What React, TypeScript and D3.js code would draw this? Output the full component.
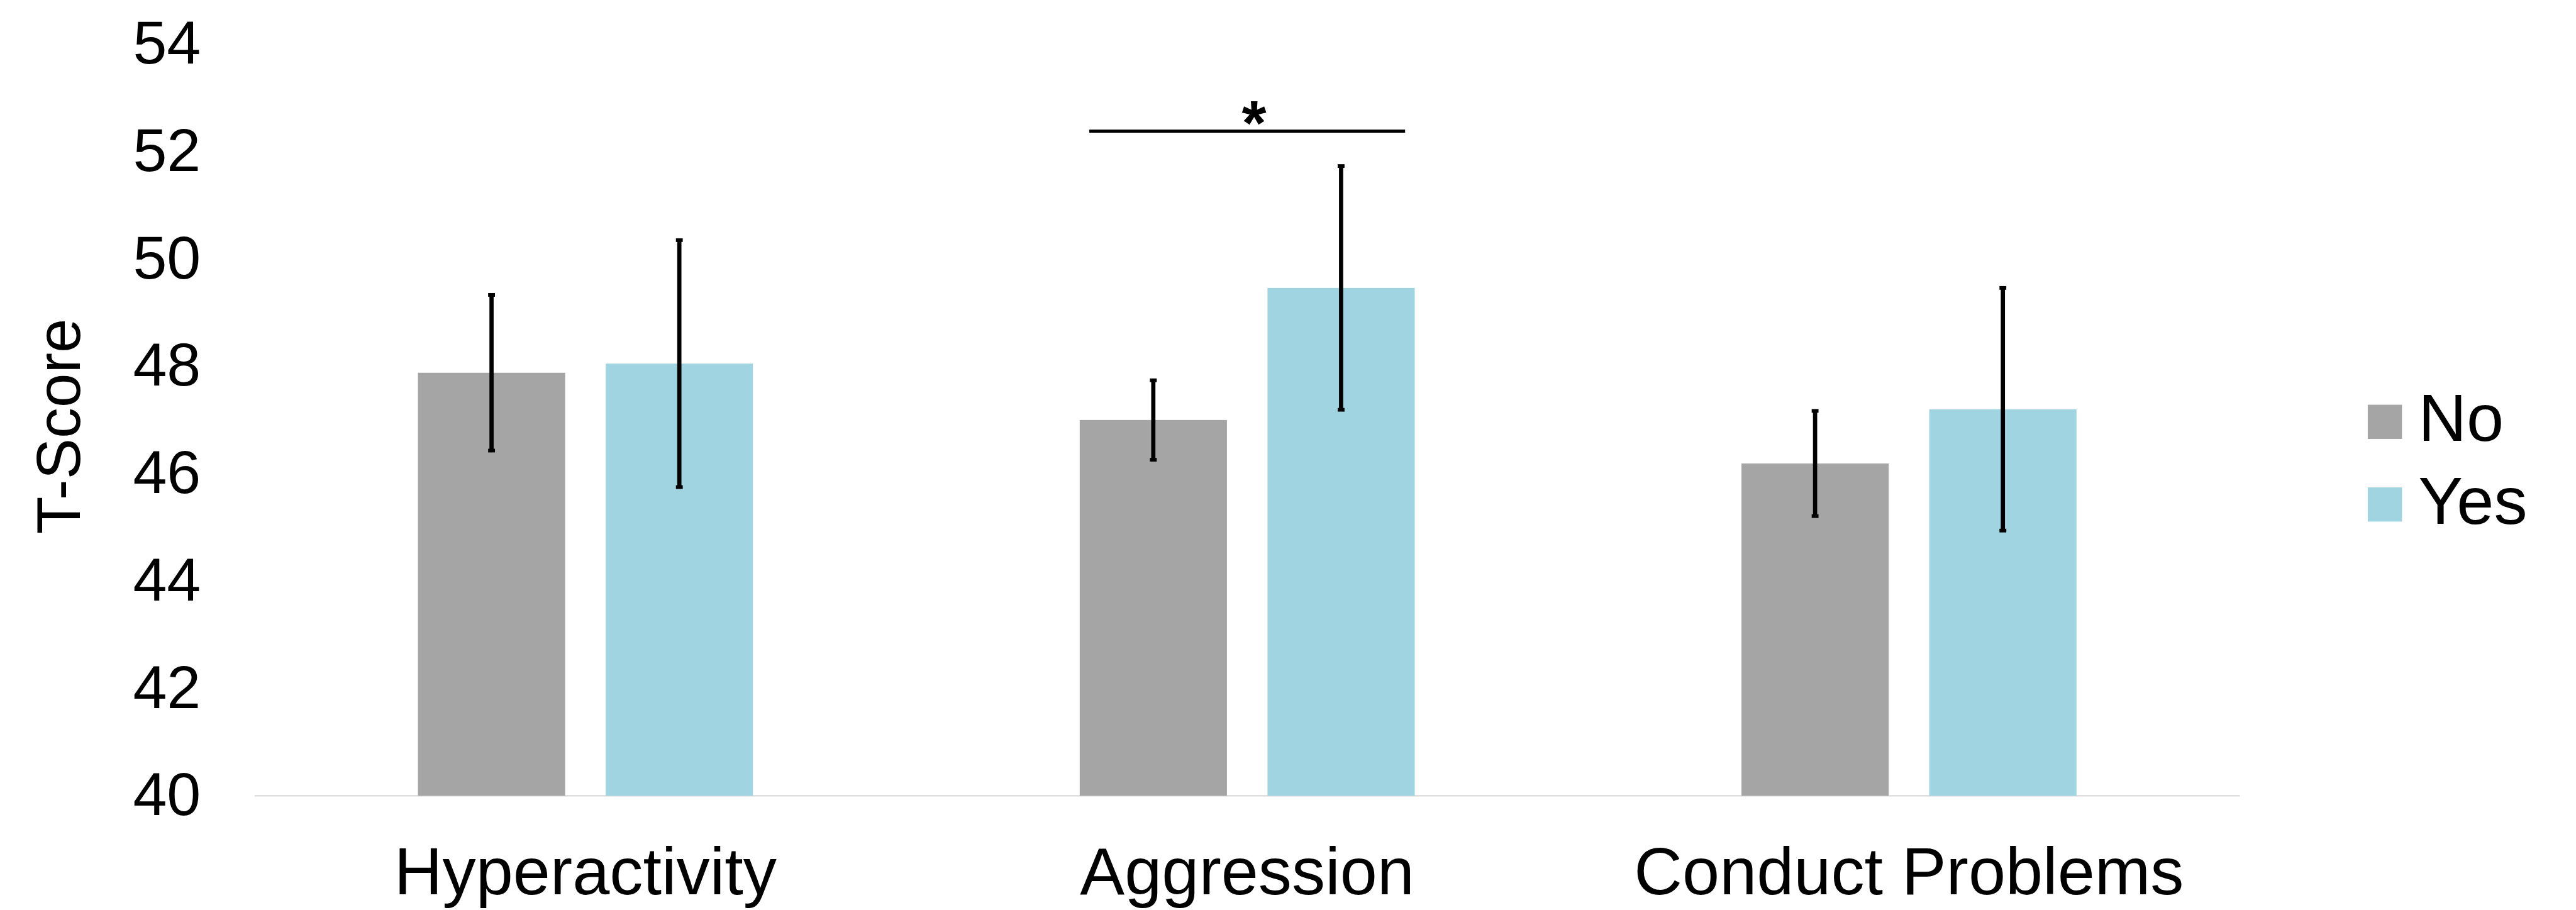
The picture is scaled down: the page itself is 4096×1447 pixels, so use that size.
import React, { useEffect, useRef } from 'react';
import * as d3 from 'd3';

const categories = ['Hyperactivity', 'Aggression', 'Conduct Problems'];
const series = ['No', 'Yes'];
const noMeans = [47.88, 47.0, 46.19];
const yesMeans = [48.05, 49.46, 47.2];
const noErr = [1.45, 0.74, 0.98];
const yesErr = [2.3, 2.27, 2.26];
const yTicks = [40, 42, 44, 46, 48, 50, 52, 54];
const sigCategory = 'Aggression';
const sigLevel = 52.38;
const sigLabel = '*';

const colors = { No: '#a5a5a5', Yes: '#9fd4e0' };
const FONT = '"Liberation Sans", Arial, sans-serif';

const App = () => {
  const svgRef = useRef(null);

  useEffect(() => {
    document.body.style.margin = '0';
    const svg = d3.select(svgRef.current);
    svg.selectAll('*').remove();

    // work in the reference's pixel space, viewBox scales it down
    const left = 483;
    const right = 4255;
    const top = 84;
    const bottom = 1512;

    const x0 = d3.scaleBand().domain(categories).range([left, right]);
    const x1 = d3
      .scaleBand()
      .domain(series)
      .range([0, x0.bandwidth()])
      .paddingInner(0.216)
      .paddingOuter(0.87);
    const y = d3.scaleLinear().domain([40, 54]).range([bottom, top]);

    const rows = categories.map((c, i) => ({
      cat: c,
      vals: [
        { key: 'No', mean: noMeans[i], err: noErr[i] },
        { key: 'Yes', mean: yesMeans[i], err: yesErr[i] },
      ],
    }));

    // baseline
    svg
      .append('line')
      .attr('x1', left)
      .attr('x2', right)
      .attr('y1', y(40))
      .attr('y2', y(40))
      .attr('stroke', '#d9d9d9')
      .attr('stroke-width', 2.5);

    // y tick labels
    svg
      .append('g')
      .selectAll('text')
      .data(yTicks)
      .join('text')
      .attr('x', 381)
      .attr('y', (d) => y(d) + 37)
      .attr('text-anchor', 'end')
      .attr('font-family', FONT)
      .attr('font-size', 116)
      .attr('fill', '#000')
      .text((d) => d);

    // y axis title
    svg
      .append('text')
      .attr('transform', 'translate(151, 810) rotate(-90)')
      .attr('text-anchor', 'middle')
      .attr('font-family', FONT)
      .attr('font-size', 117)
      .text('T-Score');

    const groups = svg
      .append('g')
      .selectAll('g')
      .data(rows)
      .join('g')
      .attr('transform', (d) => `translate(${x0(d.cat)},0)`);

    groups
      .selectAll('rect')
      .data((d) => d.vals)
      .join('rect')
      .attr('x', (d) => x1(d.key))
      .attr('width', x1.bandwidth())
      .attr('y', (d) => y(d.mean))
      .attr('height', (d) => y(40) - y(d.mean))
      .attr('fill', (d) => colors[d.key]);

    // error bars
    const eb = groups
      .selectAll('g.err')
      .data((d) => d.vals)
      .join('g')
      .attr('class', 'err')
      .attr('transform', (d) => `translate(${x1(d.key) + x1.bandwidth() / 2},0)`);
    eb.append('line')
      .attr('y1', (d) => y(d.mean + d.err))
      .attr('y2', (d) => y(d.mean - d.err))
      .attr('stroke', '#000')
      .attr('stroke-width', 8);
    [1, -1].forEach((s) => {
      eb.append('line')
        .attr('x1', -6.5)
        .attr('x2', 6.5)
        .attr('y1', (d) => y(d.mean + s * d.err))
        .attr('y2', (d) => y(d.mean + s * d.err))
        .attr('stroke', '#000')
        .attr('stroke-width', 7);
    });

    // significance bracket
    const cx = x0(sigCategory) + x0.bandwidth() / 2;
    svg
      .append('line')
      .attr('x1', cx - 300)
      .attr('x2', cx + 300)
      .attr('y1', y(sigLevel))
      .attr('y2', y(sigLevel))
      .attr('stroke', '#000')
      .attr('stroke-width', 6);
    svg
      .append('text')
      .attr('x', cx + 13)
      .attr('y', y(sigLevel) + 26)
      .attr('text-anchor', 'middle')
      .attr('font-family', FONT)
      .attr('font-weight', 'bold')
      .attr('font-size', 120)
      .text(sigLabel);

    // category labels (kept just inside the bottom edge)
    svg
      .append('g')
      .selectAll('text')
      .data(categories)
      .join('text')
      .attr('x', (d) => x0(d) + x0.bandwidth() / 2)
      .attr('y', 1699)
      .attr('text-anchor', 'middle')
      .attr('font-family', FONT)
      .attr('font-size', 127)
      .text((d) => d);

    // legend
    const legend = svg
      .append('g')
      .selectAll('g')
      .data(series)
      .join('g')
      .attr('transform', (d, i) => `translate(4498, ${769 + i * 157})`);
    legend
      .append('rect')
      .attr('width', 65)
      .attr('height', 65)
      .attr('fill', (d) => colors[d]);
    legend
      .append('text')
      .attr('x', 96)
      .attr('y', 69)
      .attr('font-family', FONT)
      .attr('font-size', 127)
      .text((d) => d);
  }, []);

  return (
    <svg
      ref={svgRef}
      width={4096}
      height={1447}
      viewBox="0 0 4893 1729"
      style={{ position: 'absolute', left: 0, top: 0, display: 'block', background: '#fff' }}
    ></svg>
  );
};

export default App;
